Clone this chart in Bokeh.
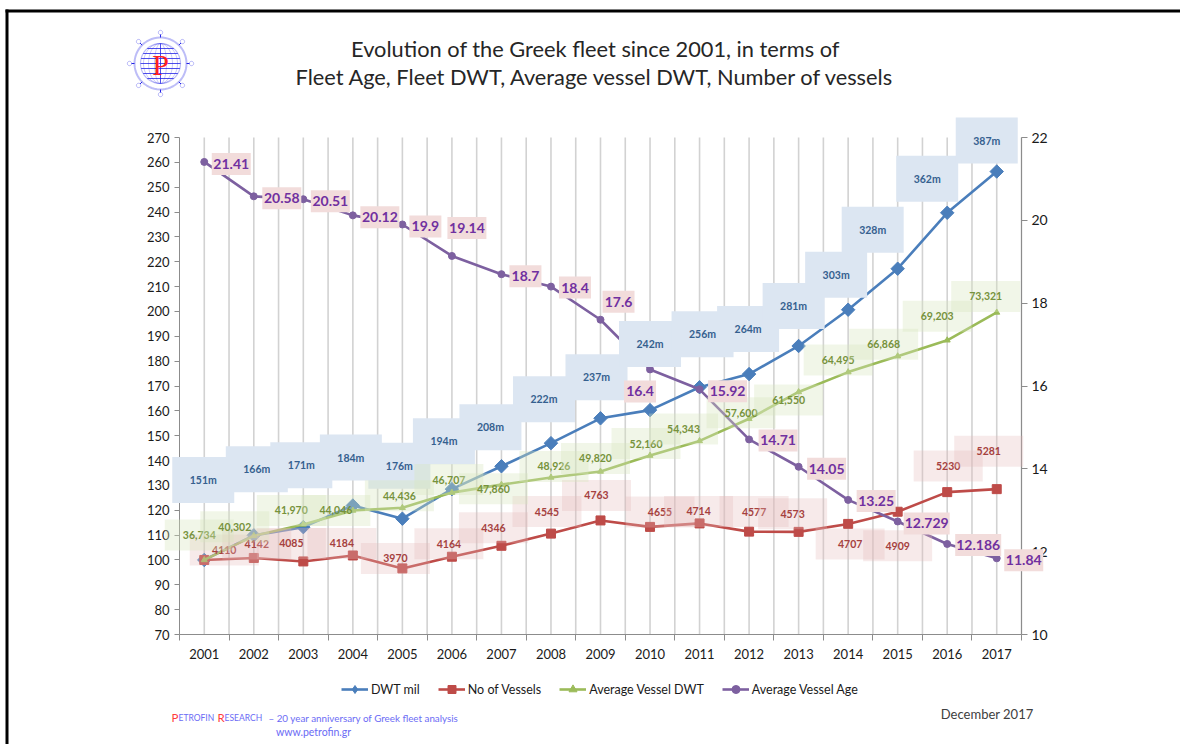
import numpy as np
from bokeh.plotting import figure
from bokeh.models import (Range1d, LinearAxis, FixedTicker, SingleIntervalTicker, Label,
                          PolyAnnotation, BoxAnnotation, Legend, LegendItem, Arrow)
from bokeh.embed import file_html
from bokeh.resources import INLINE

# ---------------- data ----------------
years = [2001, 2002, 2003, 2004, 2005, 2006, 2007, 2008, 2009,
         2010, 2011, 2012, 2013, 2014, 2015, 2016, 2017]
dwt_mil = [151, 166, 171, 184, 176, 194, 208, 222, 237, 242, 256, 264, 281, 303, 328, 362, 387]
dwt_index = [100, 109.9, 113.2, 121.9, 116.6, 128.5, 137.7, 147.0, 157.0,
             160.3, 169.5, 174.8, 186.1, 200.7, 217.2, 239.7, 256.3]
vessels = [4110, 4142, 4085, 4184, 3970, 4164, 4346, 4545, 4763,
           4655, 4714, 4577, 4573, 4707, 4909, 5230, 5281]
vessels_index = [100, 100.8, 99.4, 101.8, 96.6, 101.3, 105.7, 110.6, 115.9,
                 113.3, 114.7, 111.4, 111.3, 114.5, 119.4, 127.3, 128.5]
avg_dwt = [36734, 40302, 41970, 44046, 44436, 46707, 47860, 48926, 49820,
           52160, 54343, 57600, 61550, 64495, 66868, 69203, 73321]
avg_dwt_index = [100, 109.7, 114.3, 119.9, 121.0, 127.1, 130.3, 133.2, 135.6,
                 142.0, 147.9, 156.8, 167.6, 175.6, 182.0, 188.4, 199.6]
avg_age = [21.41, 20.58, 20.51, 20.12, 19.9, 19.14, 18.7, 18.4, 17.6,
           16.4, 15.92, 14.71, 14.05, 13.25, 12.729, 12.186, 11.84]

series_names = ["DWT mil", "No of Vessels", "Average Vessel DWT", "Average Vessel Age"]
title_lines = ["Evolution of the Greek fleet since 2001, in terms of",
               "Fleet Age, Fleet DWT, Average vessel DWT, Number of vessels"]

# ---------------- label offsets (pixels, from point to label centre) ----------------
dwt_off = [(-1, -80), (3, -66), (-2, -62), (-2, -48), (-3, -53), (-8, -48), (-11, -39), (-7, -44),
           (-4, -41), (0, -66), (3, -53), (-1, -45), (-5, -40), (-12, -35), (-25, -39), (-20, -34), (-10, -31)]
ves_off = [(20, -10), (3, -14), (-12, -18), (-11, -12), (-7, -10), (-3, -13), (-8, -18), (-4, -22),
           (-4, -25), (10, -15), (-1, -12), (5, -20), (-6, -18), (2, 20), (0, 34), (1, -26), (-8, -38)]
avg_off = [(-5, -25), (-19, -9), (-12, -14), (-17, 0), (-3, -12), (-3, -13), (-8, 4), (3, -11),
           (-5, -13), (-4, -12), (-16, -12), (-8, -6), (-10, 8), (-10, -12), (-14, -12), (-10, -24), (-11, -16)]
age_off = [(27, 2), (28, 2), (27, 2), (27, 2), (23, 2), (15, -28), (24, 2), (24, 1), (18, -18),
           (-10, 22), (28, 2), (29, 1), (28, 2), (28, 1), (29, 2), (31, 1), (27, 2)]

# ---------------- geometry (whole canvas is the frame; axes sit at fixed locations) ----------------
W, H = 1180, 744
FL, FT, FW, FH = 179, 137, 842, 497
X0, X1, Y0, Y1 = 2000.5, 2017.5, 70, 270
A0, A1 = 10, 22
PX = FW / (X1 - X0)
PY = FH / (Y1 - Y0)
PA = FH / (A1 - A0)
XS = X0 - FL / PX
YS = Y0 - (H - FT - FH) / PY


def cx(px):
    return XS + px / PX


def cy(py):
    return YS + (H - py) / PY


def age_to_left(a):
    return Y0 + (a - A0) / (A1 - A0) * (Y1 - Y0)


FONT = "Lato"
AX = "#8c8c8c"

p = figure(width=W, height=H, min_border=0,
           x_range=Range1d(XS, X1 + (W - FL - FW) / PX),
           y_range=Range1d(YS, Y1 + FT / PY),
           output_backend="svg", toolbar_location=None,
           outline_line_color=None, background_fill_color="white",
           border_fill_color="white")
p.extra_y_ranges = {"age": Range1d(A0 - (H - FT - FH) / PA, A1 + FT / PA)}
p.xgrid.visible = False
p.ygrid.visible = False

# gridlines (at categories and category boundaries)
bounds = [y - 0.5 for y in years] + [years[-1] + 0.5]
grid_x = sorted(years + bounds[1:])
p.segment(x0=grid_x, y0=[Y0] * len(grid_x), x1=grid_x, y1=[Y1] * len(grid_x),
          line_color="#d2d2d2", line_width=1.6)

# x axis
xa = p.xaxis[0]
xa.fixed_location = Y0
xa.bounds = (X0, X1)
xa.ticker = FixedTicker(ticks=years, minor_ticks=bounds)
xa.major_tick_line_color = None
xa.major_tick_out = 0
xa.major_tick_in = 0
xa.minor_tick_line_color = AX
xa.minor_tick_out = 6
xa.minor_tick_in = 0
xa.axis_line_color = AX
xa.major_label_text_font = FONT
xa.major_label_text_font_size = "13px"
xa.major_label_text_color = "#1a1a1a"
xa.major_label_standoff = 8

# left axis
ya = p.yaxis[0]
ya.fixed_location = X0
ya.bounds = (Y0, Y1)
ya.ticker = SingleIntervalTicker(interval=10)
ya.minor_tick_line_color = None
ya.major_tick_out = 5
ya.major_tick_in = 0
ya.major_tick_line_color = AX
ya.axis_line_color = AX
ya.major_label_text_font = FONT
ya.major_label_text_font_size = "13px"
ya.major_label_text_color = "#1a1a1a"
ya.major_label_standoff = 5

# right axis
ax_r = LinearAxis(y_range_name="age", ticker=FixedTicker(ticks=list(range(A0, A1 + 1, 2))),
                  fixed_location=X1, bounds=(A0, A1))
ax_r.minor_tick_line_color = None
ax_r.major_tick_out = 6
ax_r.major_tick_in = 0
ax_r.major_tick_line_color = AX
ax_r.axis_line_color = AX
ax_r.major_label_text_font = FONT
ax_r.major_label_text_font_size = "14px"
ax_r.major_label_text_color = "#1a1a1a"
ax_r.major_label_standoff = 4
p.add_layout(ax_r, "right")

# ---------------- series ----------------
C_BLUE, C_RED, C_GREEN, C_PURP = "#4a7ebb", "#be4b48", "#9bbb59", "#7d60a0"
l1 = p.line(years, dwt_index, line_color=C_BLUE, line_width=2.6)
s1_leg = p.scatter(years, dwt_index, marker="diamond", size=1,
                   fill_color=C_BLUE, line_color=C_BLUE)   # legend symbol only
s1 = p.scatter(years, dwt_index, marker="square", angle=np.pi / 4, size=9.5,
               fill_color=C_BLUE, line_color=C_BLUE)
l2 = p.line(years, vessels_index, line_color=C_RED, line_width=2.6)
s2 = p.scatter(years, vessels_index, marker="square", size=9,
               fill_color=C_RED, line_color=C_RED)
l3 = p.line(years, avg_dwt_index, line_color=C_GREEN, line_width=2.6)
s3 = p.scatter(years, avg_dwt_index, marker="triangle", size=6,
               fill_color=C_GREEN, line_color=C_GREEN)
l4 = p.line(years, avg_age, y_range_name="age", line_color=C_PURP, line_width=2.6)
s4 = p.scatter(years, avg_age, y_range_name="age", marker="circle", size=7,
               fill_color=C_PURP, line_color=C_PURP)


# ---------------- data labels ----------------
def add_labels(vals_left, texts, offs, box_w, box_h, fill, alpha, tcolor, tsize, width_fn=None):
    for yr, v, t, (dx, dy) in zip(years, vals_left, texts, offs):
        x = yr + dx / PX
        y = v - dy / PY
        w = width_fn(t) if width_fn else box_w
        p.add_layout(BoxAnnotation(left=x - w / 2 / PX, right=x + w / 2 / PX,
                                   bottom=y - box_h / 2 / PY, top=y + box_h / 2 / PY,
                                   fill_color=fill, fill_alpha=alpha, line_color=None,
                                   line_alpha=0))
        p.add_layout(Label(x=x, y=y, text=t, text_align="center", text_baseline="middle",
                           text_font=FONT, text_font_style="bold", text_font_size=tsize,
                           text_color=tcolor))


add_labels(dwt_index, [f"{v}m" for v in dwt_mil], dwt_off, 62, 46, "#dce6f2", 1.0, "#35608f", "10.5px")
add_labels(vessels_index, [str(v) for v in vessels], ves_off, 69, 31, "#e6b9b8", 0.3, "#a5413e", "10.5px")
add_labels(avg_dwt_index, [f"{v:,}" for v in avg_dwt], avg_off, 69, 31, "#d7e4bd", 0.35, "#76923c", "10.5px")
add_labels([age_to_left(a) for a in avg_age], [str(a) for a in avg_age], age_off, 0, 22,
           "#f2dcdb", 1.0, "#7030a0", "14px", width_fn=lambda t: 4 + 7 * len(t))

# ---------------- legend ----------------
legend = Legend(items=[LegendItem(label=n, renderers=r) for n, r in
                       zip(series_names, [[l1, s1_leg], [l2, s2], [l3, s3], [l4, s4]])],
                orientation="horizontal", location=(341, H - 699),
                glyph_width=27, glyph_height=20, label_standoff=3, spacing=18,
                padding=0, margin=0, border_line_color=None, background_fill_alpha=0,
                label_text_font=FONT, label_text_font_size="12.5px", label_text_color="#1a1a1a")
p.add_layout(legend)

# ---------------- title ----------------
for i, t in enumerate(title_lines):
    p.add_layout(Label(x=cx(595), y=cy(48 + 28 * i), text=t, text_align="center",
                       text_baseline="middle", text_font=FONT, text_font_size="21.8px",
                       text_color="#262626"))

# ---------------- frame border ----------------
p.add_layout(BoxAnnotation(left=cx(5), right=cx(1180), top=cy(9), bottom=cy(12),
                           fill_color="black", fill_alpha=1, line_color=None, line_alpha=0))
p.add_layout(BoxAnnotation(left=cx(5), right=cx(8), top=cy(9), bottom=cy(744),
                           fill_color="black", fill_alpha=1, line_color=None, line_alpha=0))

# ---------------- logo ----------------
LB = "#2323e6"
LX, LY = 160, 63


def ring(px_list, py_list, w):
    p.add_layout(PolyAnnotation(xs=[cx(a) for a in px_list], ys=[cy(b) for b in py_list],
                                fill_alpha=0, line_color=LB, line_width=w))


th = np.linspace(0, 2 * np.pi, 60)
ring(LX + 26 * np.cos(th), LY + 26 * np.sin(th), 2)
ring(LX + 20 * np.cos(th), LY + 20 * np.sin(th), 1.2)
for a in (6, 12, 17):
    ring(LX + a * np.cos(th), LY + 20 * np.sin(th), 0.8)
for dyy in (-15, -10, -5, 0, 5, 10, 15):
    h = np.sqrt(400 - dyy * dyy)
    p.add_layout(Arrow(x_start=cx(LX - h), y_start=cy(LY + dyy), x_end=cx(LX + h), y_end=cy(LY + dyy),
                       start=None, end=None, line_color=LB, line_width=0.8))
p.add_layout(Arrow(x_start=cx(LX), y_start=cy(LY - 20), x_end=cx(LX), y_end=cy(LY + 20),
                   start=None, end=None, line_color=LB, line_width=0.8))
th2 = np.linspace(0, 2 * np.pi, 16)
for k in range(8):
    ang = k * np.pi / 4
    kx, ky = LX + 31 * np.cos(ang), LY + 31 * np.sin(ang)
    ring(kx + 2.2 * np.cos(th2), ky + 2.2 * np.sin(th2), 1)
    p.add_layout(Arrow(x_start=cx(LX + 26 * np.cos(ang)), y_start=cy(LY + 26 * np.sin(ang)),
                       x_end=cx(LX + 29 * np.cos(ang)), y_end=cy(LY + 29 * np.sin(ang)),
                       start=None, end=None, line_color=LB, line_width=1))
p.add_layout(Label(x=cx(LX), y=cy(LY + 1), text="P", text_align="center", text_baseline="middle",
                   text_font="Liberation Serif", text_font_size="30px", text_color="#ff2020"))

# ---------------- footer ----------------
FC = "#6b6bf5"
FF = "Lato"
foot = [("P", 171, "11.5px", "#ff3b3b"), ("ETROFIN", 178, "8.5px", FC), ("R", 217, "11.5px", "#ff3b3b"),
        ("ESEARCH", 224, "8.5px", FC), ("\u2013 20 year anniversary of Greek fleet analysis", 268, "9.8px", FC)]
for t, xx, fs, col in foot:
    p.add_layout(Label(x=cx(xx), y=cy(717), text=t, text_align="left", text_baseline="alphabetic",
                       text_font=FF, text_font_size=fs, text_color=col))
p.add_layout(Label(x=cx(313), y=cy(731), text="www.petrofin.gr", text_align="center",
                   text_baseline="middle", text_font=FF, text_font_size="10.5px", text_color=FC))
p.add_layout(Label(x=cx(1033), y=cy(713), text="December 2017", text_align="right",
                   text_baseline="middle", text_font=FONT, text_font_size="13px", text_color="#404040"))

open("out.html", "w").write(file_html(p, INLINE))
